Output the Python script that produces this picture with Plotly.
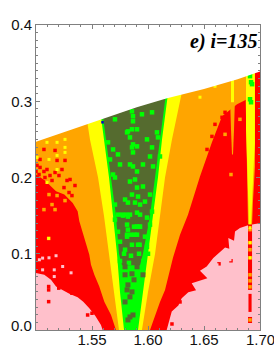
import plotly.graph_objects as go

TOP_X = [1.50, 1.557, 1.59, 1.617, 1.65, 1.68, 1.70]
TOP_Y = [0.247, 0.276, 0.292, 0.304, 0.316, 0.329, 0.339]

LEVELS = [0, 0.05, 0.10, 0.15, 0.20, 0.25, 0.30, 0.35]
YELLOW_L = [1.5741, 1.5696, 1.5652, 1.5607, 1.5554, 1.5482, 1.5429, 1.5375]
YELLOW_R = [1.5946, 1.6000, 1.6063, 1.6107, 1.6152, 1.6214, 1.6286, 1.6357]
GREEN_L = [1.5786, 1.5750, 1.5723, 1.5688, 1.5652, 1.5607, 1.5563, 1.5518]
GREEN_R = [1.5911, 1.5955, 1.6000, 1.6045, 1.6089, 1.6125, 1.6170, 1.6214]

OLIVE_Y = [0.085, 0.10, 0.15, 0.20, 0.25, 0.30, 0.35]
OLIVE_L = [1.5768, 1.5741, 1.5714, 1.5670, 1.5625, 1.5580, 1.5536]
OLIVE_R = [1.5929, 1.5955, 1.6018, 1.6063, 1.6107, 1.6152, 1.6196]

ORANGE_X = [1.5714, 1.5670, 1.5610, 1.5565, 1.5521, 1.5491, 1.5476, 1.5446, 1.5417, 1.5387, 1.5372,
            1.5328, 1.5253, 1.5179, 1.5080, 1.50, 1.50,
            1.6884, 1.6884, 1.6795, 1.6661, 1.6571, 1.6464, 1.6357, 1.6286, 1.6223, 1.6152, 1.6107, 1.6018]
ORANGE_Y = [0, 0.0197, 0.0372, 0.057, 0.0724, 0.0855, 0.0987, 0.1141, 0.1293, 0.1425, 0.1557,
            0.1667, 0.1776, 0.182, 0.1961, 0.204, 0.35,
            0.35, 0.3026, 0.2961, 0.2803, 0.2461, 0.2013, 0.1513, 0.125, 0.0947, 0.0526, 0.0368, 0]

PINK_L_X = [1.50, 1.50, 1.5074, 1.5134, 1.5179, 1.5238, 1.5298, 1.5372, 1.5422, 1.5476, 1.553, 1.558, 1.5595]
PINK_L_Y = [0, 0.0746, 0.0724, 0.0658, 0.057, 0.0526, 0.0474, 0.043, 0.0372, 0.0285, 0.0184, 0.0066, 0]

PINK_R_X = [1.6167, 1.6190, 1.6212, 1.6271, 1.6301, 1.636, 1.6429, 1.6390, 1.6449, 1.6530, 1.6464,
            1.6524, 1.6583, 1.6649, 1.6688, 1.6726, 1.6717, 1.6768, 1.6777, 1.6821, 1.6887, 1.70, 1.70]
PINK_R_Y = [0, 0.0109, 0.0241, 0.032, 0.0417, 0.0496, 0.0522, 0.0614, 0.0645, 0.068, 0.0776,
            0.0833, 0.0943, 0.1039, 0.1083, 0.1066, 0.1207, 0.1171, 0.1293, 0.1338, 0.1372, 0.1404, 0]

STRIPE_O_X = [1.6866, 1.6884, 1.6893, 1.6929, 1.6938, 1.6975, 1.6975]
STRIPE_O_Y = [0.35, 0.1711, 0.1382, 0.1382, 0.1711, 0.2632, 0.35]
STRIPE_Y_X = [1.6875, 1.6875, 1.6884, 1.6893, 1.6902, 1.692, 1.6929, 1.6946, 1.6964, 1.6964]
STRIPE_Y_Y = [0.35, 0.2632, 0.2237, 0.1711, 0.1382, 0.1382, 0.1711, 0.2237, 0.2632, 0.35]
STRIPE_R1_X = [1.6893, 1.6893, 1.6929, 1.6929]
STRIPE_R1_Y = [0.1382, 0.0526, 0.0526, 0.1382]
STRIPE_R2_X = [1.6897, 1.6897, 1.6925, 1.6925]
STRIPE_R2_Y = [0.0474, 0.0237, 0.0237, 0.0474]
STRIPE_R3_X = [1.6893, 1.6893, 1.6929, 1.6929]
STRIPE_R3_Y = [0.0171, 0.0092, 0.0092, 0.0171]
STRIPE_B_X = [1.6723, 1.6732, 1.6741, 1.675, 1.6759, 1.6768, 1.6777, 1.6786]
STRIPE_B_Y = [0.35, 0.2961, 0.2632, 0.2303, 0.2303, 0.2632, 0.2961, 0.35]
STRIPE_C_X = [1.6741, 1.6741, 1.6768, 1.6768]
STRIPE_C_Y = [0.35, 0.2987, 0.2987, 0.35]
EDGE_X = [1.6955, 1.6955, 1.70, 1.70]
EDGE_Y = [0.14, 0.35, 0.35, 0.14]

GREEN_SX = [1.5857, 1.5866, 1.6036, 1.5946, 1.5866, 1.5821, 1.5857, 1.5902, 1.5813, 1.5705,
            1.5643, 1.5839, 1.5866, 1.5857, 1.5902, 1.5991, 1.6036, 1.608, 1.6089, 1.5688,
            1.5732, 1.5661, 1.5866, 1.6018, 1.5839, 1.5866, 1.6045, 1.6107, 1.575, 1.5688,
            1.5902, 1.5955, 1.5705, 1.5884, 1.5839, 1.5955, 1.5902, 1.5857, 1.5911, 1.5795,
            1.5821, 1.5884, 1.5929, 1.5973, 1.5705, 1.6018, 1.6036, 1.5902, 1.5777, 1.5821,
            1.5929, 1.5705, 1.5991, 1.5813, 1.5902, 1.5929, 1.6018, 1.5732, 1.5821, 1.5813,
            1.5902, 1.5973, 1.575, 1.5857, 1.5911, 1.5795, 1.5991,
            1.5732, 1.5768, 1.5804, 1.5839, 1.5875, 1.59, 1.5925, 1.5813, 1.5848, 1.588, 1.5925,
            1.5786, 1.5848, 1.5920, 1.6000, 1.5750, 1.5830, 1.5960,
            1.6911, 1.6929, 1.692, 1.6911, 1.692]
GREEN_SY = [0.2868, 0.2803, 0.2855, 0.2829, 0.2737, 0.2605, 0.2632, 0.2632, 0.2592, 0.2763,
            0.2461, 0.2526, 0.2434, 0.2395, 0.2408, 0.25, 0.2395, 0.2592, 0.2526, 0.2368,
            0.2303, 0.2237, 0.2329, 0.2276, 0.2171, 0.2145, 0.2145, 0.2276, 0.2171, 0.2039,
            0.2079, 0.2171, 0.2, 0.1974, 0.1947, 0.1882, 0.1868, 0.1776, 0.175, 0.1711,
            0.1671, 0.1671, 0.1645, 0.1684, 0.1645, 0.1776, 0.1553, 0.1539, 0.15, 0.1487,
            0.1513, 0.1447, 0.1474, 0.1382, 0.1355, 0.1355, 0.1382, 0.1289, 0.1316, 0.1224,
            0.125, 0.1224, 0.1158, 0.1118, 0.1118, 0.1053, 0.1092,
            0.1513, 0.1513, 0.1513, 0.1513, 0.1355, 0.1355, 0.1355, 0.1250, 0.1250, 0.1250, 0.1118,
            0.1000, 0.0974, 0.1000, 0.1000, 0.0905, 0.0880, 0.0905,
            0.3329, 0.3224, 0.325, 0.3026, 0.2987]
OLIVE_SX = [1.5795, 1.5902, 1.5857, 1.5795, 1.5955, 1.5875, 1.5813, 1.5821, 1.5857, 1.5839,
            1.5795, 1.5839, 1.5866, 1.5821]
OLIVE_SY = [0.0829, 0.0829, 0.0737, 0.0724, 0.0724, 0.0658, 0.0526, 0.0592, 0.05, 0.0434,
            0.0368, 0.0171, 0.0197, 0.0132]
RED_SX = [1.5009, 1.5098, 1.517, 1.5188, 1.517, 1.5259, 1.5027, 1.508, 1.5143, 1.5205,
          1.525, 1.5295, 1.5321, 1.5277, 1.5009, 1.5036, 1.5, 1.5071, 1.5125, 1.5036,
          1.5071, 1.5232, 1.5304, 1.5348,
          1.5113, 1.5113, 1.5113, 1.5203, 1.5321, 1.5461, 1.55, 1.6214,
          1.6634, 1.6741, 1.6286, 1.6661, 1.6688, 1.6634, 1.6571, 1.6589, 1.6598, 1.6527]
RED_SY = [0.2158, 0.2105, 0.2355, 0.2224, 0.2066, 0.2224, 0.2039, 0.2, 0.1961, 0.2026,
          0.1868, 0.1803, 0.1763, 0.1961, 0.1961, 0.2132, 0.2079, 0.2079, 0.2026, 0.2237,
          0.2368, 0.2105, 0.1974, 0.1895,
          0.0372, 0.057, 0.0526, 0.0549, 0.0482, 0.0197, 0.022, 0.0079,
          0.0868, 0.0908, 0.0368, 0.2789, 0.2855, 0.2592, 0.2539, 0.2434, 0.2697, 0.2368]
YELLOW_SX = [1.5098, 1.5188, 1.5259, 1.5009, 1.5116, 1.5188, 1.5259, 1.5188, 1.5098, 1.5113,
             1.5259, 1.6598, 1.6464, 1.6911, 1.6911, 1.6911]
YELLOW_SY = [0.2461, 0.2461, 0.2395, 0.2263, 0.2237, 0.2289, 0.2329, 0.2105, 0.1934, 0.1201,
             0.25, 0.3197, 0.3053, 0.1145, 0.0947, 0.1342]
ORANGE_SX = [1.5188, 1.5116, 1.5259, 1.5143, 1.5071, 1.517, 1.5113, 1.6741, 1.6688, 1.6821,
             1.6911, 1.6911, 1.6911, 1.6911, 1.6911, 1.6911, 1.6911, 1.6911]
ORANGE_SY = [0.1763, 0.1776, 0.1697, 0.1645, 0.1579, 0.1579, 0.1201, 0.2039, 0.2566, 0.2763,
             0.1316, 0.1145, 0.1053, 0.0947, 0.0724, 0.0645, 0.0566, 0.0132]
PINK_SX = [1.503, 1.5059, 1.5059, 1.5163, 1.5179, 1.5116, 1.5238, 1.5313, 1.5163, 1.6616, 1.6732]
PINK_SY = [0.0921, 0.0943, 0.0789, 0.0789, 0.0974, 0.0947, 0.0833, 0.075, 0.0701, 0.0855, 0.0921]
BLUE_SX = [1.5594]
BLUE_SY = [0.2724]

X_TICKS = [1.55, 1.60, 1.65, 1.70]
X_LABELS = ["1.55", "1.60", "1.65", " "]
Y_TICKS = [0.0, 0.1, 0.2, 0.3, 0.4]
Y_LABELS = [" ", "0.1", "0.2", "0.3", "0.4"]

PINK, RED, ORANGE, YELLOW, GREEN, OLIVE = "#FFC0CB", "#FF0000", "#FFA500", "#FFFF00", "#00FF00", "#556B2F"

fig = go.Figure()


def poly(x, y, color):
    fig.add_trace(go.Scatter(x=x, y=y, mode="lines", fill="toself", fillcolor=color,
                             line=dict(width=0, color=color), hoverinfo="skip", showlegend=False))


def band(left, right, levels, color):
    poly(left + right[::-1], levels + levels[::-1], color)


def specks(x, y, color, size=3.5):
    fig.add_trace(go.Scatter(x=x, y=y, mode="markers", hoverinfo="skip", showlegend=False,
                             marker=dict(symbol="square", size=size, color=color, line=dict(width=0))))


poly([1.50, 1.50, 1.70, 1.70], [0, 0.35, 0.35, 0], RED)
poly(PINK_L_X, PINK_L_Y, PINK)
poly(PINK_R_X, PINK_R_Y, PINK)
poly(ORANGE_X, ORANGE_Y, ORANGE)
poly(STRIPE_B_X, STRIPE_B_Y, ORANGE)
poly(STRIPE_C_X, STRIPE_C_Y, YELLOW)
poly(STRIPE_O_X, STRIPE_O_Y, ORANGE)
poly(STRIPE_Y_X, STRIPE_Y_Y, YELLOW)
poly(STRIPE_R1_X, STRIPE_R1_Y, RED)
poly(STRIPE_R2_X, STRIPE_R2_Y, RED)
poly(STRIPE_R3_X, STRIPE_R3_Y, RED)
poly(EDGE_X, EDGE_Y, RED)
band(YELLOW_L, YELLOW_R, LEVELS, YELLOW)
band(GREEN_L, GREEN_R, LEVELS, GREEN)
band(OLIVE_L, OLIVE_R, OLIVE_Y, OLIVE)
specks(GREEN_SX, GREEN_SY, GREEN, 4.5)
specks(OLIVE_SX, OLIVE_SY, OLIVE, 5)
specks(RED_SX, RED_SY, RED, 3.5)
specks(ORANGE_SX, ORANGE_SY, ORANGE, 3.5)
specks(YELLOW_SX, YELLOW_SY, YELLOW, 3)
specks(PINK_SX, PINK_SY, PINK, 3)
specks(BLUE_SX, BLUE_SY, "#0000CC", 2.5)
poly(TOP_X + [1.70, 1.50], TOP_Y + [0.41, 0.41], "#FFFFFF")

AXIS = "#808080"
FONT = dict(family="Liberation Sans", size=15, color="#111111")
fig.update_xaxes(range=[1.50, 1.70], tickvals=X_TICKS, ticktext=X_LABELS, ticks="inside", ticklen=4,
                 tickcolor=AXIS, showgrid=False, zeroline=False, showline=True, linecolor=AXIS, linewidth=1,
                 mirror="ticks", tickfont=FONT, automargin=False, ticklabelstandoff=-4,
                 minor=dict(dtick=0.01, tick0=1.50, ticks="inside", ticklen=2, tickcolor=AXIS, showgrid=False))
fig.update_yaxes(range=[0.0, 0.4], tickvals=Y_TICKS, ticktext=Y_LABELS, ticks="inside", ticklen=4,
                 tickcolor=AXIS, showgrid=False, zeroline=False, showline=True, linecolor=AXIS, linewidth=1,
                 mirror="ticks", tickfont=FONT, automargin=False,
                 minor=dict(dtick=0.01, tick0=0, ticks="inside", ticklen=2, tickcolor=AXIS, showgrid=False))
fig.add_annotation(x=1.70, y=0.378, xref="x", yref="y", text="<b><i>e) i=135</i></b>", showarrow=False,
                   xanchor="right", yanchor="middle",
                   font=dict(family="Liberation Serif", size=20, color="#000000"))
fig.add_annotation(x=0, y=0.0065, xref="paper", yref="y", text="0.0", showarrow=False, xanchor="right",
                   xshift=-2, yanchor="middle", font=FONT)
fig.add_annotation(x=1.70, y=0, xref="x", yref="paper", text="1.70", showarrow=False, xanchor="center",
                   yanchor="middle", yshift=-9, font=FONT)
fig.update_layout(width=274, height=355, autosize=False, showlegend=False,
                  margin=dict(l=36, r=14, t=25, b=25, pad=0),
                  paper_bgcolor="#FFFFFF", plot_bgcolor="#FFFFFF")
fig.write_html("out.html", post_script="document.body.style.margin='0';document.documentElement.style.overflow='hidden';",
               config={"displayModeBar": False})
